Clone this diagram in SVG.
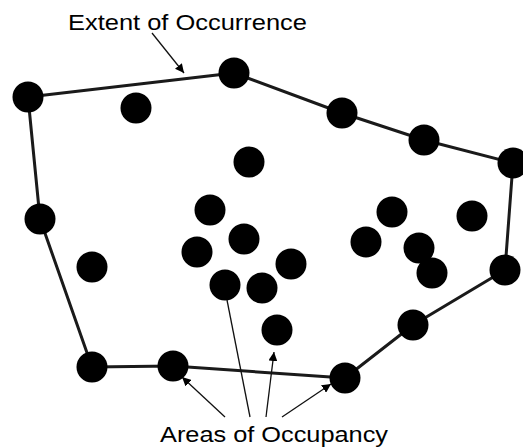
<svg xmlns="http://www.w3.org/2000/svg" width="523" height="448" viewBox="0 0 523 448">
<style>
.hull{fill:none;stroke:#1a1a1a;stroke-width:3;stroke-linejoin:round}
.arr{fill:none;stroke:#111;stroke-width:1.3}
.dot{fill:#000}
.lbl{font-family:"Liberation Sans",Arial,sans-serif;font-size:22px;fill:#000}
</style>
<defs>
<marker id="ah" viewBox="0 0 10 10" refX="10" refY="5" markerWidth="9" markerHeight="9" markerUnits="userSpaceOnUse" orient="auto">
<path d="M0,0 L10,5 L0,10 z" fill="#000"/>
</marker>
</defs>
<rect width="523" height="448" fill="#fff"/>
<g id="connectors">
<polygon class="hull" points="28,97 234,73 342,113 424,140 513,163 505,270 413,325 345,378 173,366 92,367 40,219"/>
<line class="arr" x1="152" y1="33" x2="184" y2="73" marker-end="url(#ah)"/>
<line class="arr" x1="225" y1="417" x2="182" y2="377" marker-end="url(#ah)"/>
<line class="arr" x1="250" y1="417" x2="227" y2="300"/>
<line class="arr" x1="266" y1="417" x2="274" y2="352" marker-end="url(#ah)"/>
<line class="arr" x1="282" y1="417" x2="331" y2="384" marker-end="url(#ah)"/>
</g>
<g id="hull-points">
<circle id="h1" class="dot" cx="28" cy="97" r="15.5"/>
<circle id="h2" class="dot" cx="234" cy="73" r="15.5"/>
<circle id="h3" class="dot" cx="342" cy="113" r="15.5"/>
<circle id="h4" class="dot" cx="424" cy="140" r="15.5"/>
<circle id="h5" class="dot" cx="513" cy="163" r="15.5"/>
<circle id="h6" class="dot" cx="505" cy="270" r="15.5"/>
<circle id="h7" class="dot" cx="413" cy="325" r="15.5"/>
<circle id="h8" class="dot" cx="345" cy="378" r="15.5"/>
<circle id="h9" class="dot" cx="173" cy="366" r="15.5"/>
<circle id="h10" class="dot" cx="92" cy="367" r="15.5"/>
<circle id="h11" class="dot" cx="40" cy="219" r="15.5"/>
</g>
<g id="interior-points">
<circle id="p1" class="dot" cx="136" cy="108" r="15.5"/>
<circle id="p2" class="dot" cx="249" cy="162" r="15.5"/>
<circle id="p3" class="dot" cx="210" cy="210" r="15.5"/>
<circle id="p4" class="dot" cx="244" cy="239" r="15.5"/>
<circle id="p5" class="dot" cx="197" cy="252" r="15.5"/>
<circle id="p6" class="dot" cx="92" cy="267" r="15.5"/>
<circle id="p7" class="dot" cx="225" cy="285" r="15.5"/>
<circle id="p8" class="dot" cx="262" cy="288" r="15.5"/>
<circle id="p9" class="dot" cx="291" cy="264" r="15.5"/>
<circle id="p10" class="dot" cx="277" cy="330" r="15.5"/>
<circle id="p11" class="dot" cx="392" cy="212" r="15.5"/>
<circle id="p12" class="dot" cx="472" cy="216" r="15.5"/>
<circle id="p13" class="dot" cx="366" cy="242" r="15.5"/>
<circle id="p14" class="dot" cx="419" cy="248" r="15.5"/>
<circle id="p15" class="dot" cx="432" cy="273" r="15.5"/>
</g>
<g id="labels">
<text id="extent-label" class="lbl" x="68" y="30" textLength="239" lengthAdjust="spacingAndGlyphs">Extent of Occurrence</text>
<text id="aoo-label" class="lbl" x="160" y="442" textLength="228" lengthAdjust="spacingAndGlyphs">Areas of Occupancy</text>
</g>
</svg>
